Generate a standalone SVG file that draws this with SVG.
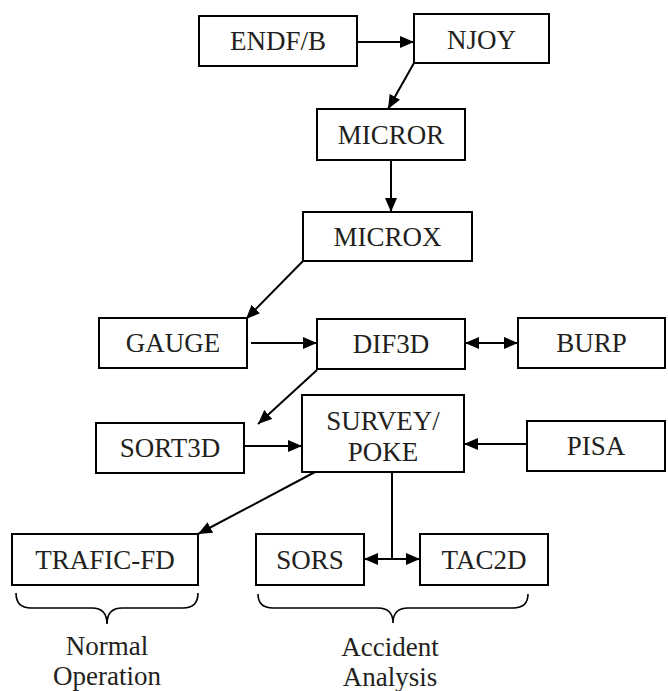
<svg xmlns="http://www.w3.org/2000/svg" width="668" height="691" viewBox="0 0 668 691">
<style>
.box{fill:#fff;stroke:#000;stroke-width:2}
text{font-family:Liberation Serif, Tinos, Times New Roman, Times, serif;font-size:27px;fill:#231f20;text-anchor:middle}
.con{fill:none;stroke:#000;stroke-width:2}
.brace{fill:none;stroke:#000;stroke-width:1.6}
</style>
<defs>
<marker id="ah" markerUnits="userSpaceOnUse" markerWidth="15" markerHeight="13" refX="14" refY="6" orient="auto-start-reverse" viewBox="0 0 15 13">
<path d="M0,0 L14,6 L0,12 z" fill="#000"/>
</marker>
</defs>
<rect width="668" height="691" fill="#fff"/>
<g id="endfb"><rect class="box" x="199" y="16" width="158" height="50"/><text x="278" y="50">ENDF/B</text></g>
<g id="njoy"><rect class="box" x="414" y="14" width="135" height="49"/><text x="481.5" y="49">NJOY</text></g>
<g id="micror"><rect class="box" x="317" y="109" width="148" height="51"/><text x="391" y="144">MICROR</text></g>
<g id="microx"><rect class="box" x="303" y="212" width="169" height="49"/><text x="387.5" y="246">MICROX</text></g>
<g id="gauge"><rect class="box" x="99" y="318" width="148" height="50"/><text x="173" y="352">GAUGE</text></g>
<g id="dif3d"><rect class="box" x="317" y="319" width="148" height="50"/><text x="391" y="353">DIF3D</text></g>
<g id="burp"><rect class="box" x="518" y="318" width="147" height="50"/><text x="591.5" y="352">BURP</text></g>
<g id="sort3d"><rect class="box" x="96" y="423" width="148" height="50"/><text x="170" y="457">SORT3D</text></g>
<g id="survey"><rect class="box" x="302" y="395" width="162" height="77"/><text x="383" y="430">SURVEY/</text><text x="383" y="461">POKE</text></g>
<g id="pisa"><rect class="box" x="527" y="421" width="138" height="50"/><text x="596" y="455">PISA</text></g>
<g id="traficfd"><rect class="box" x="12" y="534" width="186" height="51"/><text x="105" y="569">TRAFIC-FD</text></g>
<g id="sors"><rect class="box" x="256" y="534" width="108" height="51"/><text x="310" y="569">SORS</text></g>
<g id="tac2d"><rect class="box" x="420" y="534" width="128" height="51"/><text x="484" y="569">TAC2D</text></g>
<g id="connectors">
<path class="con" d="M357,42 L414,42" marker-end="url(#ah)"/>
<path class="con" d="M414,63 L388,109" marker-end="url(#ah)"/>
<path class="con" d="M391,160 L391,212" marker-end="url(#ah)"/>
<path class="con" d="M303,261 L246,319" marker-end="url(#ah)"/>
<path class="con" d="M251,343 L317,343" marker-end="url(#ah)"/>
<path class="con" d="M465,343 L518,343" marker-start="url(#ah)" marker-end="url(#ah)"/>
<path class="con" d="M317,370 L258,424" marker-end="url(#ah)"/>
<path class="con" d="M244,446 L302,446" marker-end="url(#ah)"/>
<path class="con" d="M527,444 L464,444" marker-end="url(#ah)"/>
<path class="con" d="M315,472 L198,534" marker-end="url(#ah)"/>
<path class="con" d="M392,472 L392,559"/>
<path class="con" d="M364,559 L420,559" marker-start="url(#ah)" marker-end="url(#ah)"/>
</g>
<g id="normal-operation">
<path class="brace" d="M16,593 Q16,608 31,608 L92,608 Q107,608 107,624 Q107,608 122,608 L183,608 Q198,608 198,593"/>
<text x="107" y="655">Normal</text>
<text x="107" y="685">Operation</text>
</g>
<g id="accident-analysis">
<path class="brace" d="M258,594 Q258,608 273,608 L378,608 Q393,608 393,623 Q393,608 408,608 L513,608 Q528,608 528,594"/>
<text x="390" y="656">Accident</text>
<text x="390" y="686">Analysis</text>
</g>
</svg>
